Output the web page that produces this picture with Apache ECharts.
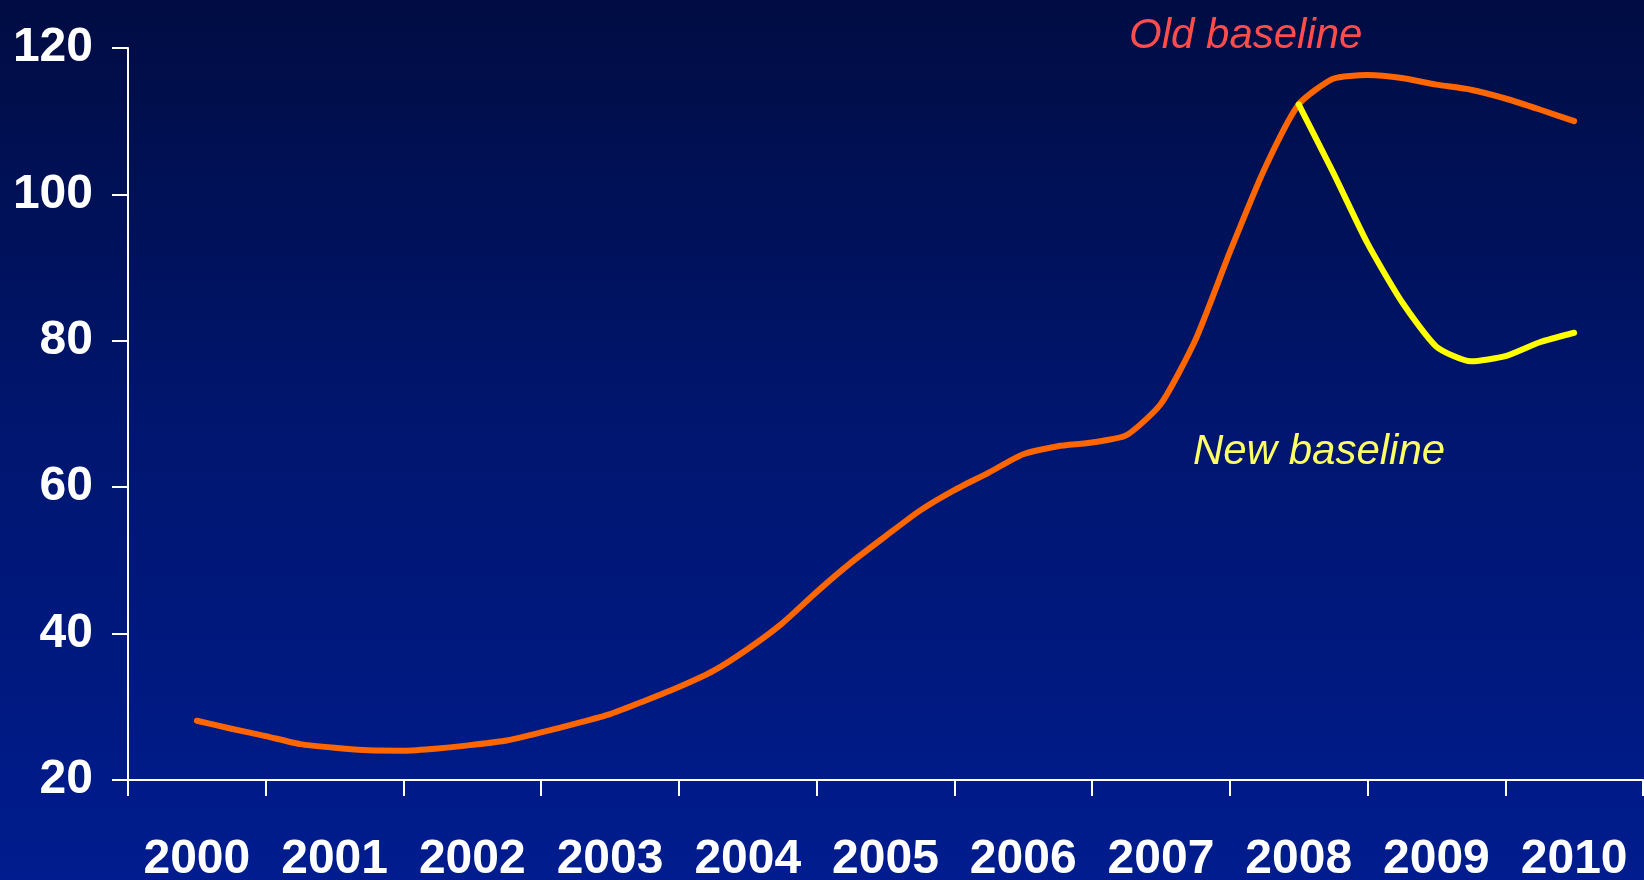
<!DOCTYPE html>
<html>
<head>
<meta charset="utf-8">
<title>Old and new baseline</title>
<script src="https://cdn.jsdelivr.net/npm/echarts@6/dist/echarts.min.js"></script>
<style>
  html, body { margin: 0; padding: 0; width: 100%; height: 100%; overflow: hidden; background: #001470; }
  #chart { width: 1644px; height: 880px; }
</style>
</head>
<body>
<div id="chart"></div>
<script>
// Year categories along the bottom axis
const years = ['2000', '2001', '2002', '2003', '2004', '2005', '2006', '2007', '2008', '2009', '2010'];

// Y axis range and step
const yMin = 20;
const yMax = 120;
const yStep = 20;

// Old baseline, quarterly values from the middle of 2000 to the middle of 2010
const oldBaseline = [
  28.1, 27.0, 26.0, 24.9, 24.4, 24.05, 24.0, 24.3,
  24.8, 25.4, 26.5, 27.7, 29.0, 30.8, 32.7, 34.9,
  37.9, 41.4, 45.7, 49.7, 53.3, 56.8, 59.6, 62.0,
  64.5, 65.6, 66.1, 67.1, 71.4, 80.1, 92.1, 103.4,
  112.3, 115.8, 116.3, 115.9, 115.0, 114.3, 113.1, 111.6,
  110.0
];

// New baseline, quarterly values branching off in the middle of 2008
const newBaselineStart = 32; // quarter index where the new baseline begins
const newBaseline = [112.3, 103.0, 93.3, 85.3, 79.2, 77.2, 77.9, 79.8, 81.1];

// Quarter index -> position on the year scale (0 = middle of the first year)
const toPoints = (values, offset) => values.map((v, i) => [(i + offset) / 4, v]);

const fontFamily = '"Liberation Sans", Arial, Helvetica, sans-serif';
const axisWhite = '#ffffff';

const chart = echarts.init(document.getElementById('chart'), null, { renderer: 'canvas' });

chart.setOption({
  animation: false,
  backgroundColor: new echarts.graphic.LinearGradient(0, 0, 0, 1, [
    { offset: 0, color: '#000c42' },
    { offset: 0.5, color: '#001670' },
    { offset: 1, color: '#001c8e' }
  ]),
  grid: { left: 128, right: 1, top: 48, bottom: 100, containLabel: false, outerBoundsMode: 'none' },
  xAxis: [
    {
      type: 'category',
      data: years,
      boundaryGap: true,
      axisLine: { show: true, onZero: false, lineStyle: { color: axisWhite, width: 2 } },
      axisTick: { show: true, length: 16, inside: false, lineStyle: { color: axisWhite, width: 2 } },
      axisLabel: {
        color: axisWhite,
        fontFamily: fontFamily,
        fontWeight: 'bold',
        fontSize: 48,
        margin: 56,
        interval: 0
      },
      splitLine: { show: false }
    },
    {
      type: 'value',
      min: -0.5,
      max: 10.5,
      show: false,
      position: 'bottom',
      axisLine: { onZero: false }
    }
  ],
  yAxis: {
    type: 'value',
    min: yMin,
    max: yMax,
    interval: yStep,
    axisLine: { show: true, onZero: false, lineStyle: { color: axisWhite, width: 2 } },
    axisTick: { show: true, length: 16, lineStyle: { color: axisWhite, width: 2 } },
    axisLabel: {
      color: axisWhite,
      fontFamily: fontFamily,
      fontWeight: 'bold',
      fontSize: 48,
      margin: 35
    },
    splitLine: { show: false }
  },
  series: [
    {
      name: 'Old baseline',
      type: 'line',
      xAxisIndex: 1,
      data: toPoints(oldBaseline, 0),
      showSymbol: false,
      smooth: 0.2,
      lineStyle: { color: '#ff6600', width: 6, cap: 'round', join: 'round' },
      z: 2
    },
    {
      name: 'New baseline',
      type: 'line',
      xAxisIndex: 1,
      data: toPoints(newBaseline, newBaselineStart),
      showSymbol: false,
      smooth: 0.2,
      lineStyle: { color: '#ffff00', width: 6, cap: 'round', join: 'round' },
      z: 3
    }
  ],
  graphic: [
    {
      type: 'text',
      left: 1129,
      top: 15,
      style: {
        text: 'Old baseline',
        fill: '#ff4d4d',
        font: 'italic 42px ' + fontFamily
      }
    },
    {
      type: 'text',
      left: 1193,
      top: 431,
      style: {
        text: 'New baseline',
        fill: '#ffff66',
        font: 'italic 42px ' + fontFamily
      }
    }
  ]
});
</script>
</body>
</html>
